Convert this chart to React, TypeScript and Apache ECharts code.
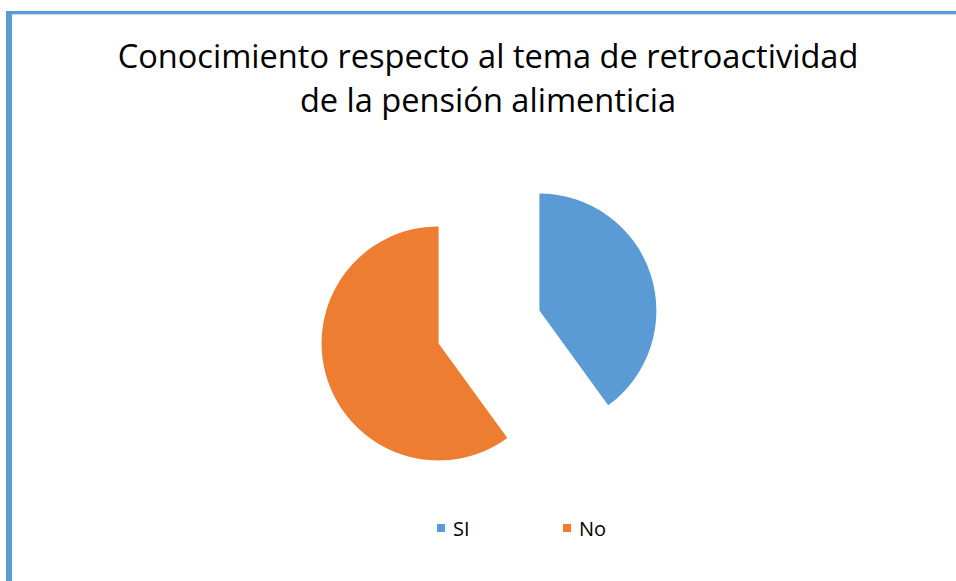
import React, { useEffect, useRef } from "react";
import * as echarts from "echarts";

const titleLines = ["Conocimiento respecto al tema de retroactividad", "de la pensión alimenticia"];
const categories = ["SI", "No"];
const values = [40, 60];
const colors = ["#5B9BD5", "#ED7D31"];

export default function App() {
  const ref = useRef<HTMLDivElement>(null);
  useEffect(() => {
    if (!ref.current) return;
    const chart = echarts.init(ref.current, undefined, { renderer: "svg" });
    const legendText = { fontFamily: "Open Sans", fontSize: 20, color: "#000", padding: [0, 0, 0, 3] };
    chart.setOption({
      animation: false,
      backgroundColor: "#ffffff",
      title: {
        text: titleLines.join("\n"),
        left: 488,
        textAlign: "center",
        top: 33,
        padding: 0,
        textStyle: {
          fontFamily: "Open Sans",
          fontWeight: "normal",
          fontSize: 32.6,
          lineHeight: 44,
          color: "#000000",
        },
      },
      legend: [
        {
          data: [categories[0]],
          left: 437,
          top: 518,
          padding: 0,
          icon: "rect",
          itemWidth: 8,
          itemHeight: 8,
          selectedMode: false,
          textStyle: legendText,
        },
        {
          data: [categories[1]],
          left: 563,
          top: 518,
          padding: 0,
          icon: "rect",
          itemWidth: 8,
          itemHeight: 8,
          selectedMode: false,
          textStyle: legendText,
        },
      ],
      graphic: [
        { type: "rect", shape: { x: 6, y: 11, width: 6, height: 600 }, style: { fill: "#5B9BD5" } },
        { type: "rect", shape: { x: 6, y: 11, width: 960, height: 3 }, style: { fill: "#5B9BD5" } },
        { type: "rect", shape: { x: 12, y: 14, width: 960, height: 1 }, style: { fill: "#C5DAF0" } },
      ],
      series: [
        {
          type: "pie",
          center: [489, 327],
          radius: 117,
          startAngle: 90,
          clockwise: true,
          selectedMode: "multiple",
          selectedOffset: 53,
          label: { show: false },
          labelLine: { show: false },
          emphasis: { disabled: true },
          itemStyle: { borderWidth: 0 },
          data: categories.map((c, i) => ({
            name: c,
            value: values[i],
            selected: true,
            itemStyle: { color: colors[i] },
          })),
        },
      ],
    });
    return () => chart.dispose();
  }, []);
  return (
    <div
      ref={ref}
      style={{ position: "absolute", left: 0, top: 0, width: 956, height: 581 }}
    />
  );
}
